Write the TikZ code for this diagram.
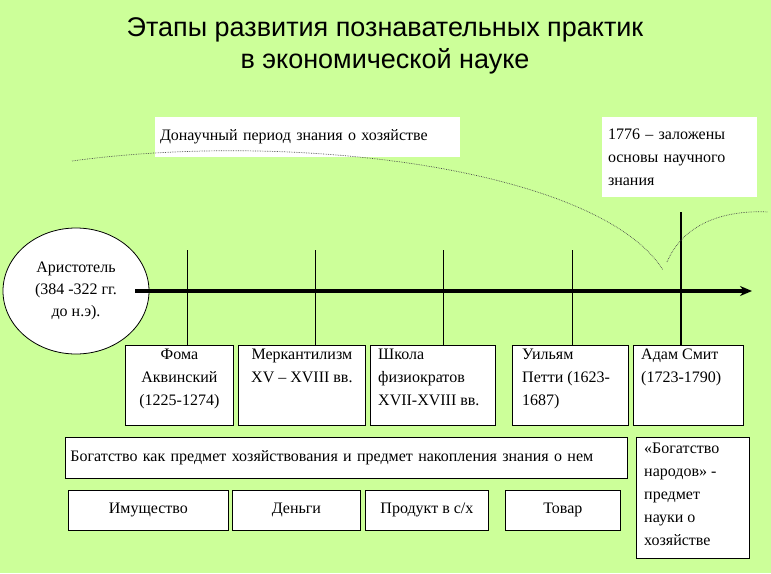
\documentclass[tikz,border=0pt]{standalone}
\usepackage{fontspec}
\usetikzlibrary{shapes.geometric,arrows.meta}
\setmainfont{Liberation Serif}
\newfontfamily\titlefont{Liberation Sans}
\begin{document}
\begin{tikzpicture}[x=1pt,y=-1pt,
  fnt/.style={font=\fontsize{16}{23}\selectfont},
  wbox/.style={draw=black,fill=white,line width=0.8pt,inner sep=0pt,fnt},
  lbl/.style={fill=white,inner sep=0pt,fnt},
  tick/.style={line width=0.8pt},
  arcl/.style={densely dotted,gray!60!black,line width=0.7pt}]
\fill[fill={rgb,255:red,204;green,255;blue,153}] (0,0) rectangle (771,573);
\useasboundingbox (0,0) rectangle (771,573);
\node[font=\titlefont\fontsize{27}{32}\selectfont,align=center] (title) at (385,46) {Этапы развития познавательных практик\\в экономической науке};
% labels top
\node[lbl,minimum width=305,minimum height=40,text width=295,align=left] (don) at (307.5,137) {Донаучный период знания о хозяйстве};
\node[lbl,minimum width=155,minimum height=80,text width=143,align=left] (y1776) at (679.5,157) {1776 -- заложены\\основы научного\\знания};
% ticks
\foreach \x/\n in {187/t1,315/t2,443/t3,572/t4}{
  \coordinate (\n a) at (\x,250); \coordinate (\n b) at (\x,345);
  \draw[tick] (\n a) -- (\n b);}
\coordinate (t5a) at (681,212); \coordinate (t5b) at (681,345);
\draw[line width=2.5pt] (t5a) -- (t5b);
% arcs
\coordinate (a0) at (72,161); \coordinate (a1) at (663,270);
\draw[arcl] (a0) .. controls (300,130) and (600,170) .. (a1);
\coordinate (b0) at (667,262); \coordinate (b1) at (768,212);
\draw[arcl] (b0) .. controls (685,220) and (730,210) .. (b1);
% circle
\node[draw,fill=white,ellipse,minimum width=146,minimum height=126,inner sep=0pt,align=center,font=\fontsize{16}{22}\selectfont,line width=0.8pt] (ar) at (76,291) {Аристотель\\(384 -322 гг.\\до н.э).};
\coordinate (axs) at (135,291); \coordinate (axe) at (752,291);
\draw[line width=3.5pt,-{Stealth[length=12pt,width=10pt]}] (axs) -- (axe);
% row boxes
\foreach \n/\x/\w in {foma/125/108,merc/238/127,fiz/370/125,petty/512/116,smith/633/110}
  \node[wbox,minimum width=\w,minimum height=80,anchor=north west] (\n) at (\x,345) {};
\node[fnt,inner sep=0pt,align=center,anchor=north] (footxt) at (foma.north) [yshift=-4pt] {Фома\\Аквинский\\(1225-1274)};
\node[fnt,inner sep=0pt,align=center,anchor=north] (merctxt) at (merc.north) [yshift=-4pt] {Меркантилизм\\XV -- XVIII вв.};
\node[fnt,inner sep=0pt,align=left,anchor=north west] (fiztxt) at (fiz.north west) [yshift=-4pt,xshift=8pt] {Школа\\физиократов\\XVII-XVIII вв.};
\node[fnt,inner sep=0pt,align=left,anchor=north west] (pettytxt) at (petty.north west) [yshift=-4pt,xshift=10pt] {Уильям\\Петти (1623-\\1687)};
\node[fnt,inner sep=0pt,align=left,anchor=north west] (smithtxt) at (smith.north west) [yshift=-4pt,xshift=8pt] {Адам Смит\\(1723-1790)};
% wide
\node[wbox,minimum width=562,minimum height=41,anchor=north west,align=left,text width=552] (bog) at (65,437) {Богатство как предмет хозяйствования и предмет накопления знания о нем};
\node[wbox,minimum width=113,minimum height=121,anchor=north west] (nar) at (636,437) {};
\node[fnt,inner sep=0pt,align=left,anchor=north west] (nartxt) at (nar.north west) [xshift=8pt,yshift=-6pt] {«Богатство\\народов» -\\предмет\\науки о\\хозяйстве};
% bottom
\node[wbox,minimum width=160,minimum height=40,anchor=north west] (im) at (68,490) {Имущество};
\node[wbox,minimum width=128,minimum height=40,anchor=north west] (den) at (232,490) {Деньги};
\node[wbox,minimum width=123,minimum height=40,anchor=north west] (prod) at (365,490) {Продукт в с/х};
\node[wbox,minimum width=115,minimum height=40,anchor=north west] (tov) at (505,490) {Товар};
\end{tikzpicture}
\end{document}
